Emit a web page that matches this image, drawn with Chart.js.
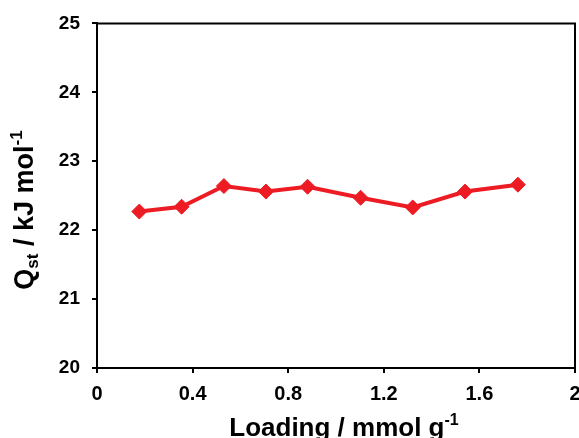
<!DOCTYPE html>
<html>
<head>
<meta charset="utf-8">
<script src="https://cdn.jsdelivr.net/npm/chart.js@4"></script>
<style>
  html, body { margin: 0; padding: 0; background: #fff; overflow: hidden; }
  #wrap { width: 579px; height: 438px; overflow: hidden; position: relative; }
  #box { width: 600px; height: 438px; }
</style>
</head>
<body>
<div id="wrap"><div id="box"><canvas id="qstChart"></canvas></div></div>
<script>
// values
const loading = [0.177, 0.354, 0.531, 0.707, 0.881, 1.103, 1.321, 1.540, 1.761];
const qst = [22.27, 22.34, 22.64, 22.56, 22.63, 22.47, 22.33, 22.56, 22.66];
const xTicks = [0, 0.4, 0.8, 1.2, 1.6, 2];
const yTicks = [20, 21, 22, 23, 24, 25];

const FONT = "'Liberation Sans', Arial, sans-serif";
const RED = "#ed1c24";

// draws text with sub/superscript pieces, centred on 0
function drawRich(ctx, parts) {
  let total = 0;
  parts.forEach(p => {
    ctx.font = `bold ${p.size}px ${FONT}`;
    p.w = ctx.measureText(p.t).width;
    total += p.w;
  });
  let x = -total / 2;
  parts.forEach(p => {
    ctx.font = `bold ${p.size}px ${FONT}`;
    ctx.fillText(p.t, x, p.dy || 0);
    x += p.w;
  });
}

const frameAndTitles = {
  id: "frameAndTitles",
  afterDraw(chart) {
    const { ctx, chartArea } = chart;
    ctx.save();
    // top and right sides of the box
    ctx.strokeStyle = "#000";
    ctx.lineWidth = 2;
    ctx.beginPath();
    ctx.moveTo(chartArea.left, chartArea.top);
    ctx.lineTo(chartArea.right, chartArea.top);
    ctx.lineTo(chartArea.right, chartArea.bottom);
    ctx.stroke();

    ctx.fillStyle = "#000";
    ctx.textBaseline = "alphabetic";
    ctx.textAlign = "left";

    // x axis title
    ctx.save();
    ctx.translate(344, 436);
    drawRich(ctx, [
      { t: "Loading / mmol g", size: 26 },
      { t: "-1", size: 16, dy: -11 }
    ]);
    ctx.restore();

    // y axis title
    ctx.save();
    ctx.translate(33, 210);
    ctx.rotate(-Math.PI / 2);
    drawRich(ctx, [
      { t: "Q", size: 27 },
      { t: "st", size: 17, dy: 5 },
      { t: " / kJ mol", size: 27 },
      { t: "-1", size: 17, dy: -11 }
    ]);
    ctx.restore();
    ctx.restore();
  }
};

new Chart(document.getElementById("qstChart"), {
  type: "line",
  data: {
    datasets: [{
      data: loading.map((x, i) => ({ x: x, y: qst[i] })),
      borderColor: RED,
      backgroundColor: RED,
      borderWidth: 4,
      pointStyle: "rectRot",
      pointRadius: 7.5,
      pointBorderWidth: 1,
      pointBorderColor: RED,
      pointBackgroundColor: RED,
      tension: 0
    }]
  },
  options: {
    responsive: true,
    maintainAspectRatio: false,
    animation: false,
    layout: { padding: { top: 21, right: 25, left: 0, bottom: 0 } },
    plugins: { legend: { display: false }, tooltip: { enabled: false } },
    scales: {
      x: {
        type: "linear",
        min: 0,
        max: 2,
        afterBuildTicks: s => { s.ticks = xTicks.map(v => ({ value: v })); },
        afterFit: s => { s.height = 70; },
        ticks: {
          color: "#000",
          padding: 9,
          maxRotation: 0,
          font: { family: FONT, size: 20, weight: "bold" },
          callback: v => String(v)
        },
        grid: { drawOnChartArea: false, drawTicks: true, tickLength: 5, color: "#000", lineWidth: 2 },
        border: { display: true, color: "#000", width: 2 }
      },
      y: {
        min: 20,
        max: 25,
        afterBuildTicks: s => { s.ticks = yTicks.map(v => ({ value: v })); },
        afterFit: s => { s.width = 97; },
        ticks: {
          color: "#000",
          padding: 12,
          font: { family: FONT, size: 19, weight: "bold" },
          callback: v => String(v)
        },
        grid: { drawOnChartArea: false, drawTicks: true, tickLength: 5, color: "#000", lineWidth: 2 },
        border: { display: true, color: "#000", width: 2 }
      }
    }
  },
  plugins: [frameAndTitles]
});
</script>
</body>
</html>
